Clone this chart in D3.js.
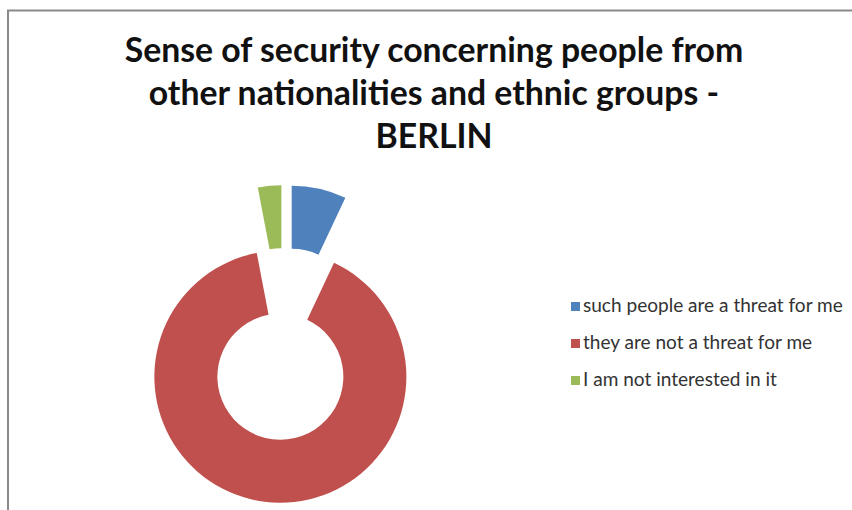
<!DOCTYPE html>
<html><head><meta charset="utf-8">
<script src="https://cdn.jsdelivr.net/npm/d3@7"></script>
<style>html,body{margin:0;padding:0;background:#fff;}svg{display:block;}</style>
</head><body>
<svg id="chart" width="852" height="510"></svg>
<script>
const categories = ["such people are a threat for me", "they are not a threat for me", "I am not interested in it"];
const values = [7, 90, 3];
const colors = ["#4F81BD", "#C0504D", "#9BBB59"];
const titleLines = ["Sense of security concerning people from", "other nationalities and ethnic groups -", "BERLIN"];

const svg = d3.select("#chart");
svg.append("rect").attr("x", 0).attr("y", 0).attr("width", 852).attr("height", 510).attr("fill", "#fff");
// chart area border (top and left visible)
svg.append("path").attr("d", "M8,510 L8,10.5 L852,10.5").attr("fill", "none")
  .attr("stroke", "#8a8a8a").attr("stroke-width", 2);

// title
const titleFont = "Lato, 'Open Sans', sans-serif";
const tg = svg.append("g");
const t1 = tg.append("text").attr("font-family", titleFont).attr("font-weight", 700)
  .attr("font-size", 30).text(titleLines[0]);
const w30 = t1.node().getComputedTextLength();
t1.remove();
const titleSize = 30 * 619 / w30;
titleLines.forEach((line, i) => {
  tg.append("text").attr("x", 434).attr("y", 62 + i * 43)
    .attr("text-anchor", "middle").attr("font-family", titleFont).attr("font-weight", 700)
    .attr("font-size", titleSize).attr("fill", "#111").text(line);
});

// exploded donut
const cx = 284.5, cy = 344, explode = 33, rOuter = 126, rInner = 63;
const pie = d3.pie().sort(null).value(d => d);
const arcs = pie(values);
const arc = d3.arc().innerRadius(rInner).outerRadius(rOuter);
const g = svg.append("g").attr("transform", `translate(${cx},${cy})`);
g.selectAll("path").data(arcs).join("path")
  .attr("d", arc)
  .attr("fill", (d, i) => colors[i])
  .attr("transform", d => {
    const m = (d.startAngle + d.endAngle) / 2;
    return `translate(${explode * Math.sin(m)},${-explode * Math.cos(m)})`;
  });

// legend
const legFont = "Lato, 'Open Sans', sans-serif";
const probe = svg.append("text").attr("font-family", legFont).attr("font-size", 14).text(categories[0]);
const lw = probe.node().getComputedTextLength();
probe.remove();
const legSize = 14 * 260 / lw;
const yScale = d3.scalePoint().domain(categories).range([306.5, 380.5]);
const lg = svg.append("g");
categories.forEach((c, i) => {
  const y = yScale(c);
  lg.append("rect").attr("x", 571).attr("y", y - 4.5).attr("width", 9).attr("height", 9).attr("fill", colors[i]);
  lg.append("text").attr("x", 583).attr("y", y + 5).attr("font-family", legFont)
    .attr("font-size", legSize).attr("fill", "#333").text(c);
});
</script>
</body></html>
